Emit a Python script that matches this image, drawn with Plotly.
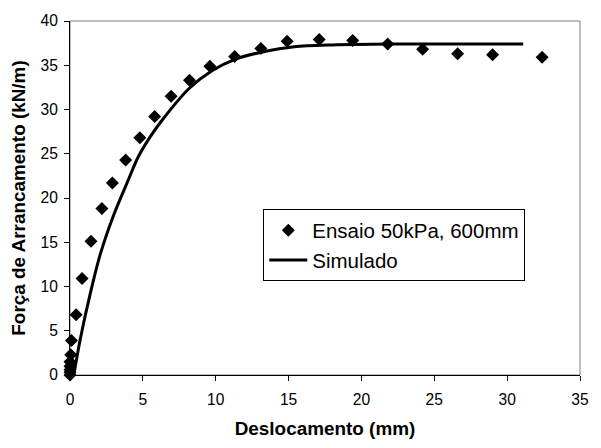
import plotly.graph_objects as go

# Experimental data (Ensaio 50kPa, 600mm)
ensaio_x = [0, 0, 0, 0, 0, 0.05, 0.1, 0.42, 0.83, 1.44, 2.19, 2.91, 3.82, 4.79, 5.81,
            6.94, 8.2, 9.6, 11.3, 13.1, 14.9, 17.1, 19.4, 21.8, 24.2, 26.6, 29.0, 32.4]
ensaio_y = [0, 0.3, 0.6, 1.0, 1.5, 2.3, 3.9, 6.8, 10.9, 15.1, 18.8, 21.7, 24.3, 26.8, 29.2,
            31.5, 33.3, 34.9, 36.0, 36.9, 37.7, 37.9, 37.8, 37.4, 36.8, 36.3, 36.2, 35.9]

# Simulated curve
sim_x = [0.26, 0.71, 1.39, 2.07, 2.98, 3.89, 4.67, 5.5, 6.37, 8.19, 9.77, 11.36, 13.2,
         15.4, 18.0, 22.0, 26.0, 31.1]
sim_y = [0, 4.1, 9.2, 13.6, 18.0, 21.6, 24.6, 26.9, 28.9, 32.4, 34.4, 35.7, 36.5,
         37.1, 37.3, 37.4, 37.4, 37.4]

x_ticks = [0, 5, 10, 15, 20, 25, 30, 35]
y_ticks = [0, 5, 10, 15, 20, 25, 30, 35, 40]

FONT = "Liberation Sans, Arial, sans-serif"

fig = go.Figure()
fig.add_trace(go.Scatter(
    x=ensaio_x, y=ensaio_y, mode="markers", name="Ensaio 50kPa, 600mm",
    marker=dict(symbol="diamond", size=10, color="black"),
    cliponaxis=False,
))
fig.add_trace(go.Scatter(
    x=sim_x, y=sim_y, mode="lines", name="Simulado",
    line=dict(color="black", width=3, shape="spline", smoothing=0.8),
    cliponaxis=False,
))

fig.update_layout(
    width=601, height=448,
    margin=dict(l=70, r=17, t=19, b=63, pad=0),
    paper_bgcolor="white", plot_bgcolor="white",
    font=dict(family=FONT, size=15.6, color="black"),
    showlegend=True,
    legend=dict(
        x=0.379, y=0.4676, xanchor="left", yanchor="top",
        bgcolor="white", bordercolor="black", borderwidth=1,
        font=dict(family=FONT, size=20.5, color="black"),
        tracegroupgap=0, itemwidth=38,
    ),
    shapes=[dict(type="rect", xref="paper", yref="paper", x0=0, y0=0, x1=1, y1=1,
                 line=dict(color="#808080", width=1), layer="below")],
)
fig.update_xaxes(
    range=[0, 35], tickvals=x_ticks, ticktext=[str(v) for v in x_ticks],
    showgrid=False, zeroline=False, showline=True, linecolor="black", linewidth=1,
    ticks="outside", ticklen=5, tickcolor="black", tickwidth=1,
    ticklabelstandoff=5,
    tickfont=dict(family=FONT, size=15.6),
    title=dict(text="<b>Deslocamento (mm)</b>", font=dict(family=FONT, size=18.9), standoff=15),
)
fig.update_yaxes(
    range=[0, 40], tickvals=y_ticks, ticktext=[str(v) for v in y_ticks],
    showgrid=False, zeroline=False, showline=True, linecolor="black", linewidth=1,
    ticks="outside", ticklen=5, tickcolor="black", tickwidth=1,
    ticklabelstandoff=3,
    tickfont=dict(family=FONT, size=15.6),
    title=dict(text="<b>Força de Arrancamento (kN/m)</b>", font=dict(family=FONT, size=18.9), standoff=9),
)

fig.write_html("out.html")
